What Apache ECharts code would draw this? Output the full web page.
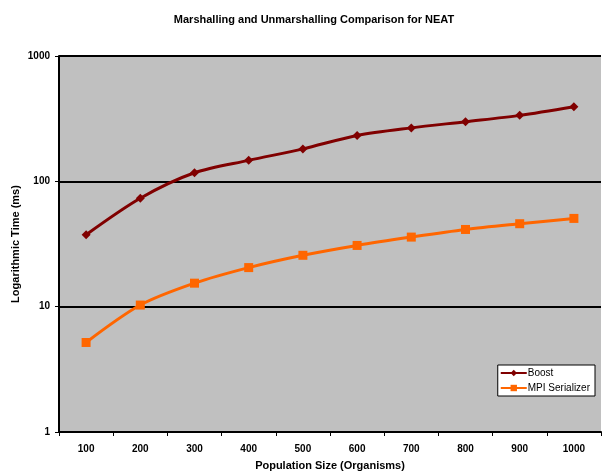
<!DOCTYPE html>
<html><head><meta charset="utf-8">
<script src="https://cdn.jsdelivr.net/npm/echarts@6/dist/echarts.min.js"></script>
<style>html,body{margin:0;padding:0;background:#fff}#c{width:603px;height:472px}</style>
</head><body><div id="c"></div>
<script>
const categories = ['100','200','300','400','500','600','700','800','900','1000'];
const boost = [37.5, 73.3, 117, 147, 181.5, 232, 267, 299, 336, 394];
const mpiSerializer = [5.18, 10.3, 15.4, 20.5, 25.7, 30.8, 35.9, 41.3, 45.9, 50.6];
const yTicks = [1, 10, 100, 1000];

const font = 'Liberation Sans, Arial, sans-serif';
const chart = echarts.init(document.getElementById('c'));
chart.setOption({
  animation: false,
  backgroundColor: '#ffffff',
  title: {
    text: 'Marshalling and Unmarshalling Comparison for NEAT',
    left: 309, top: 9, textAlign: 'center',
    textStyle: { fontFamily: font, fontSize: 11, fontWeight: 'bold', color: '#000' }
  },
  grid: { left: 59, right: 2, top: 56, bottom: 40, show: true, backgroundColor: '#c0c0c0', borderWidth: 0,
    containLabel: false, outerBoundsMode: 'none' },
  legend: {
    right: 8, top: 365, orient: 'vertical', itemGap: 5,
    backgroundColor: '#ffffff', borderColor: '#000', borderWidth: 1, padding: [3, 5, 3, 2],
    itemWidth: 26, itemHeight: 8,
    textStyle: { fontFamily: font, fontSize: 10, color: '#000', padding: [0, 0, 0, -4] },
    data: [{ name: 'Boost' }, { name: 'MPI Serializer' }]
  },
  xAxis: {
    type: 'category', data: categories, boundaryGap: true,
    name: 'Population Size (Organisms)', nameLocation: 'middle', nameGap: 28,
    nameTextStyle: { fontFamily: font, fontSize: 11, fontWeight: 'bold', color: '#000' },
    axisLine: { lineStyle: { color: '#000', width: 2 } },
    axisTick: { show: true, alignWithLabel: false, length: 4, lineStyle: { color: '#000', width: 1 } },
    axisLabel: { fontFamily: font, fontSize: 10, fontWeight: 'bold', color: '#000', margin: 12 }
  },
  yAxis: {
    type: 'log', logBase: 10, min: yTicks[0], max: yTicks[yTicks.length - 1],
    name: 'Logarithmic Time (ms)', nameLocation: 'middle', nameGap: 38, nameMoveOverlap: false,
    nameTextStyle: { fontFamily: font, fontSize: 11, fontWeight: 'bold', color: '#000' },
    axisLine: { show: true, lineStyle: { color: '#000', width: 2 } },
    axisTick: { show: true, length: 4, lineStyle: { color: '#000', width: 1 } },
    axisLabel: { fontFamily: font, fontSize: 10, fontWeight: 'bold', color: '#000', margin: 9,
      formatter: v => String(Math.round(v)) },
    splitLine: { show: true, lineStyle: { color: '#000', width: 2 } }
  },
  series: [
    {
      name: 'Boost', type: 'line', data: boost, smooth: 0.3,
      symbol: 'diamond', symbolSize: 9,
      itemStyle: { color: '#800000' },
      lineStyle: { color: '#800000', width: 3 }
    },
    {
      name: 'MPI Serializer', type: 'line', data: mpiSerializer, smooth: 0.3,
      symbol: 'rect', symbolSize: 9,
      itemStyle: { color: '#ff6600' },
      lineStyle: { color: '#ff6600', width: 3 }
    }
  ]
});
</script></body></html>
